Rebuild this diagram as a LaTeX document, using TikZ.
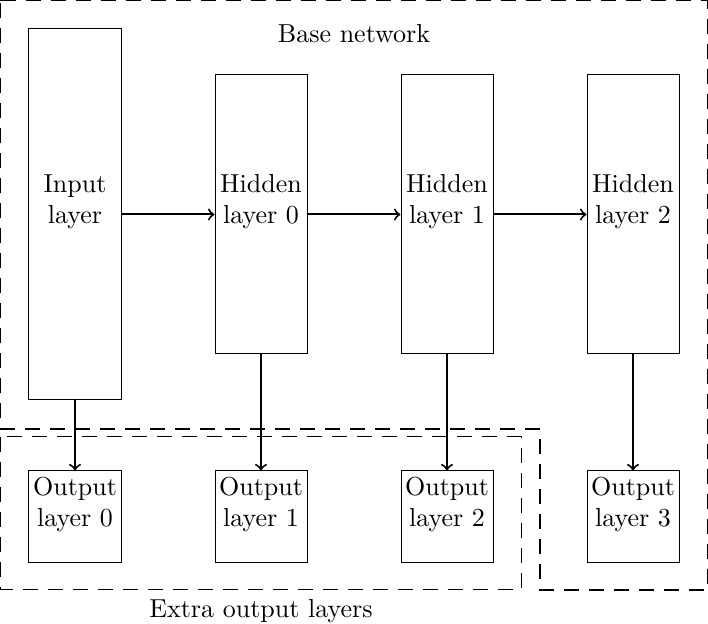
\documentclass[tikz,border=0pt]{standalone}
\begin{document}
\begin{tikzpicture}[x=0.4pt,y=-0.4pt,
  every node/.style={font=\fontsize{10.4pt}{12.4pt}\selectfont},
  layerbox/.style={draw,thin,minimum width=36.8pt,inner sep=0pt},
  lbl/.style={align=center,inner sep=0pt},
  conn/.style={->,thick},
  region/.style={dash pattern=on 6pt off 4pt}]
\useasboundingbox (0,0) rectangle (708,624);
% regions
\draw[region,line width=0.55pt] (0.5,0.5) -- (707.5,0.5) -- (707.5,590) -- (540,590) -- (540,429) -- (0.5,429) -- cycle;
\draw[region,thin] (0.5,437) rectangle (521,590);
\node (basettl) at (354,34) {Base network};
\node (extrattl) at (261,611) {Extra output layers};
% layer boxes
\node[layerbox,minimum height=148.4pt] (in) at (75,214.5) {};
\node[layerbox,minimum height=111.6pt] (h0) at (261,214.5) {};
\node[layerbox,minimum height=111.6pt] (h1) at (447,214.5) {};
\node[layerbox,minimum height=111.6pt] (h2) at (633,214.5) {};
\node[layerbox,minimum height=36.8pt] (o0) at (75,517) {};
\node[layerbox,minimum height=36.8pt] (o1) at (261,517) {};
\node[layerbox,minimum height=36.8pt] (o2) at (447,517) {};
\node[layerbox,minimum height=36.8pt] (o3) at (633,517) {};
% texts
\node[lbl] (tin) at (75,202) {Input\\layer};
\node[lbl] (th0) at (261,202) {Hidden\\layer 0};
\node[lbl] (th1) at (447,202) {Hidden\\layer 1};
\node[lbl] (th2) at (633,202) {Hidden\\layer 2};
\node[lbl] (to0) at (75,505) {Output\\layer 0};
\node[lbl] (to1) at (261,505) {Output\\layer 1};
\node[lbl] (to2) at (447,505) {Output\\layer 2};
\node[lbl] (to3) at (633,505) {Output\\layer 3};
% connectors
\draw[conn] (in.east) -- (h0.west);
\draw[conn] (h0.east) -- (h1.west);
\draw[conn] (h1.east) -- (h2.west);
\draw[conn] (in.south) -- (o0.north);
\draw[conn] (h0.south) -- (o1.north);
\draw[conn] (h1.south) -- (o2.north);
\draw[conn] (h2.south) -- (o3.north);
\end{tikzpicture}
\end{document}
